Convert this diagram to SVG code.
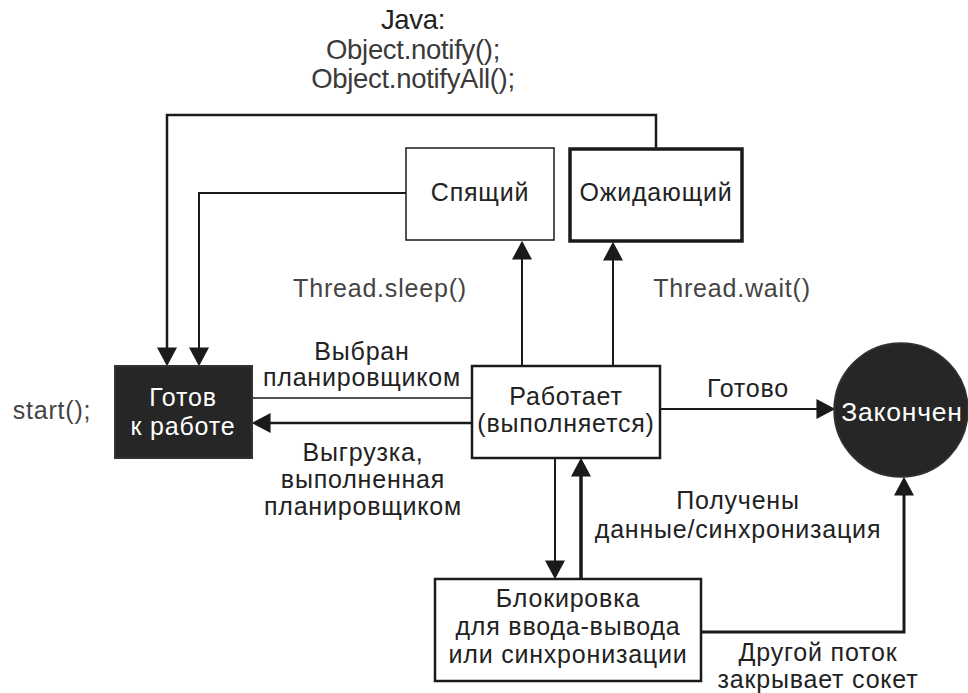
<svg xmlns="http://www.w3.org/2000/svg" width="968" height="693" viewBox="0 0 968 693">
<defs>
<style>
text{font-family:"Liberation Sans",Arial,Helvetica,sans-serif;font-size:25px;fill:#222;text-anchor:middle;letter-spacing:0.8px}
.code{fill:#444}
.top{font-size:27.5px;letter-spacing:-0.3px;fill:#3a3a3a}
.inv{fill:#fff}
.box{fill:#fff;stroke:#1a1a1a}
.dark{fill:#262626;stroke:#333;stroke-width:2}
.c{fill:none;stroke:#1a1a1a}
</style>
<marker id="ah" markerUnits="userSpaceOnUse" markerWidth="20" markerHeight="20" viewBox="0 0 18 19" refX="11" refY="9.5" orient="auto">
<path d="M0,0 L18,9.5 L0,19 z" fill="#1a1a1a"/>
</marker>
</defs>
<rect width="968" height="693" fill="#fff"/>

<g id="title">
<text class="top" x="413" y="29" style="fill:#222">Java:</text>
<text class="top" x="413" y="59">Object.notify();</text>
<text class="top" x="413" y="88">Object.notifyAll();</text>
</g>

<g id="connectors">
<path class="c" stroke-width="2.5" d="M656,148 V115 H167 V359" marker-end="url(#ah)"/>
<path class="c" stroke-width="2" d="M406,193 H199 V359" marker-end="url(#ah)"/>
<path class="c" stroke-width="2" d="M522,366 V248" marker-end="url(#ah)"/>
<path class="c" stroke-width="2" d="M613,366 V249" marker-end="url(#ah)"/>
<path class="c" stroke-width="1.5" d="M252,398 H472"/>
<path class="c" stroke-width="2.5" d="M472,423 H259" marker-end="url(#ah)"/>
<path class="c" stroke-width="2" d="M660,409 H828" marker-end="url(#ah)"/>
<path class="c" stroke-width="2" d="M555,458 V572" marker-end="url(#ah)"/>
<path class="c" stroke-width="3.5" d="M581,579 V465" marker-end="url(#ah)"/>
<path class="c" stroke-width="3" d="M701,632 H904 V484" marker-end="url(#ah)"/>
</g>

<g id="labels">
<text class="code" x="380" y="297">Thread.sleep()</text>
<text class="code" x="732" y="297">Thread.wait()</text>
<text x="362" y="360">Выбран</text>
<text x="362" y="386">планировщиком</text>
<text x="363" y="461">Выгрузка,</text>
<text x="363" y="488">выполненная</text>
<text x="363" y="515">планировщиком</text>
<text x="748" y="397">Готово</text>
<text x="738" y="509">Получены</text>
<text x="738" y="538">данные/синхронизация</text>
<text x="818" y="661">Другой поток</text>
<text x="818" y="688">закрывает сокет</text>
<text class="code" x="52" y="419">start();</text>
</g>

<g id="sleeping">
<rect class="box" x="406" y="148" width="148" height="92" stroke-width="1.5"/>
<text x="480" y="201">Спящий</text>
</g>

<g id="waiting">
<rect class="box" x="570" y="149" width="172" height="92" stroke-width="3.5"/>
<text x="656" y="201">Ожидающий</text>
</g>

<g id="ready">
<rect class="dark" x="115" y="366" width="137" height="92"/>
<text class="inv" x="183" y="406">Готов</text>
<text class="inv" x="183" y="435">к работе</text>
</g>

<g id="running">
<rect class="box" x="472" y="366" width="188" height="92" stroke-width="2.5"/>
<text x="566" y="405">Работает</text>
<text x="566" y="432">(выполняется)</text>
</g>

<g id="finished">
<circle cx="901" cy="410" r="67" fill="#262626" stroke="#333" stroke-width="1.5"/>
<text class="inv" x="902" y="421" style="font-size:26.5px;letter-spacing:0.8px">Закончен</text>
</g>

<g id="blocked">
<rect class="box" x="435" y="579" width="266" height="102" stroke-width="2.5"/>
<text x="568" y="607">Блокировка</text>
<text x="568" y="635">для ввода-вывода</text>
<text x="568" y="663">или синхронизации</text>
</g>
</svg>
